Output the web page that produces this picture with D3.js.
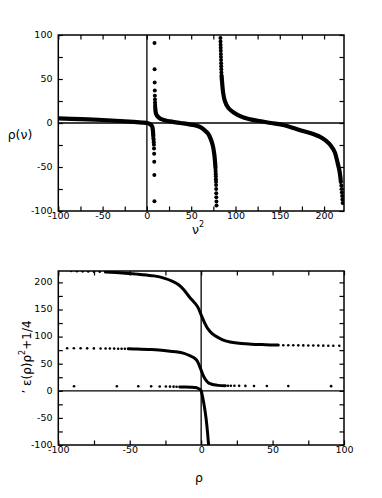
<!DOCTYPE html>
<html>
<head>
<meta charset="utf-8">
<script src="https://cdn.jsdelivr.net/npm/d3@7"></script>
<style>
  body { margin: 0; background: #fff; }
  svg { display: block; }
  text { font-family: "DejaVu Sans", sans-serif; fill: #000; }
</style>
</head>
<body>
<svg id="chart" width="382" height="498"></svg>
<script>
(() => {
  'use strict';

  // every pair is [nu^2, rho]
  const curveA = [[-100, 5.2], [-75, 4.4], [-50, 3.4], [-30, 2.3], [-15, 1.3], [-5, 0.5], [0, 0],
    [3, -1.0], [5, -2.5], [6, -4], [6.6, -7], [7.0, -11], [7.2, -15]];
  const dotsA = [[7.4, -17.2], [7.6, -19.3], [7.75, -21.8], [7.9, -24.7], [8.05, -29], [8.2, -35],
    [8.3, -44], [8.4, -59], [8.5, -89]];

  const dotsB1 = [[8.6, 91], [8.7, 61], [8.8, 46], [8.9, 37], [9.0, 31], [9.1, 26.6], [9.2, 23.3],
    [9.3, 20.8], [9.4, 18.8]];
  const curveB = [[9.5, 17], [10, 12], [11, 9], [12.5, 7], [15, 5], [20, 3.2], [28, 1.5], [38, 0],
    [48, -1.5], [56, -3], [61, -5], [65, -8], [69, -12], [72, -18], [74.5, -26], [76, -35],
    [77, -45], [77.4, -51]];
  const dotsB2 = [[77.5, -53.4], [77.6, -55.7], [77.7, -58.1], [77.8, -60.9], [77.9, -63.9],
    [78.0, -66.9], [78.1, -70.4], [78.2, -75.1], [78.3, -79.8], [78.4, -84.4], [78.5, -89.1],
    [78.6, -93.8]];

  const dotsC1 = [[83.0, 96.7], [83.1, 92.5], [83.2, 89], [83.3, 85.5], [83.4, 82], [83.5, 78.5],
    [83.6, 75], [83.7, 71.5], [83.8, 68], [83.9, 64.5], [84.0, 61], [84.1, 57.5]];
  const curveC = [[84.3, 54], [85, 45], [86, 35], [88, 25], [92, 17], [98, 12], [106, 7.5],
    [115, 4.5], [125, 2.5], [140, 0], [155, -2.5], [174, -8.5], [186, -12], [196, -16], [202, -20],
    [207.5, -25.5], [212, -33], [215, -44], [217.5, -55], [219, -67]];
  const dotsC2 = [[219.5, -71], [219.8, -75], [220.1, -79], [220.4, -83], [220.7, -87], [221, -91]];

  const curves = [curveA, curveB, curveC];
  const dots = [dotsA, dotsB1, dotsB2, dotsC1, dotsC2];

  const topXTicks = d3.range(-100, 201, 25);
  const topYTicks = d3.range(-100, 101, 25);
  const botXTicks = d3.range(-100, 101, 25);
  const botYTicks = d3.range(-100, 201, 25);

  let svg = d3.select('#chart');

  function panel(id, x, y, xt, yt, ix, iy, lineW, dotR) {
    let g = svg.append('g');
    let [x0, x1] = x.range(), [y0, y1] = y.range();
    let fmt = d => d % 50 === 0 ? d : '';

    g.append('clipPath').attr('id', id)
      .append('rect').attr('x', x0).attr('y', y1).attr('width', x1 - x0).attr('height', y0 - y1);

    let ax = (axis, tx, ty) => g.append('g')
      .attr('transform', `translate(${tx},${ty})`)
      .call(axis)
      .call(a => a.select('.domain').remove())
      .call(a => a.selectAll('line').attr('stroke', '#000').attr('stroke-width', 1.2))
      .call(a => a.selectAll('text').attr('font-size', 9.5).attr('font-family', '"DejaVu Sans", sans-serif'));

    ax(d3.axisBottom(x).tickValues(xt).tickFormat(fmt).tickSizeInner(-4.5).tickSizeOuter(0).tickPadding(1.4), 0, y0);
    ax(d3.axisTop(x).tickValues(xt).tickFormat('').tickSizeInner(-4.5).tickSizeOuter(0), 0, y1);
    ax(d3.axisLeft(y).tickValues(yt).tickFormat(fmt).tickSizeInner(-4.5).tickSizeOuter(0).tickPadding(5.8), x0, 0)
      .selectAll('text').attr('dy', '0.25em');
    ax(d3.axisRight(y).tickValues(yt).tickFormat('').tickSizeInner(-4.5).tickSizeOuter(0), x1, 0);

    // zero lines
    g.append('line').attr('x1', x(0)).attr('x2', x(0)).attr('y1', y0).attr('y2', y1)
      .attr('stroke', '#000').attr('stroke-width', 1.3);
    g.append('line').attr('x1', x0).attr('x2', x1).attr('y1', y(0)).attr('y2', y(0))
      .attr('stroke', '#000').attr('stroke-width', 1.3);

    let data = g.append('g').attr('clip-path', `url(#${id})`);
    let line = d3.line()
      .x(d => x(d[ix]))
      .y(d => y(d[iy]))
      .curve(d3.curveCatmullRom.alpha(0.5));

    data.selectAll('path.c').data(curves).join('path')
      .attr('class', 'c')
      .attr('d', line)
      .attr('fill', 'none')
      .attr('stroke', '#000')
      .attr('stroke-width', lineW)
      .attr('stroke-linecap', 'round')
      .attr('stroke-linejoin', 'round');

    data.selectAll('circle').data(dots.flat()).join('circle')
      .attr('cx', d => x(d[ix]))
      .attr('cy', d => y(d[iy]))
      .attr('r', dotR)
      .attr('fill', '#000');

    g.append('rect')
      .attr('x', x0).attr('y', y1).attr('width', x1 - x0).attr('height', y0 - y1)
      .attr('fill', 'none').attr('stroke', '#000').attr('stroke-width', 1.5);
    return g;
  }

  // top: rho against nu^2
  let xTop = d3.scaleLinear([-100, 222.5], [58.3, 344]);
  let yTop = d3.scaleLinear([-100, 100], [211, 35]);
  panel('clipTop', xTop, yTop, topXTicks, topYTicks, 0, 1, 4.2, 2);

  // bottom: nu^2 against rho
  let xBot = d3.scaleLinear([-100, 100], [58.3, 344]);
  let yBot = d3.scaleLinear([-100, 221], [445, 271]);
  panel('clipBot', xBot, yBot, botXTicks, botYTicks, 1, 0, 3, 1.3);

  // axis titles
  svg.append('text').attr('x', 20).attr('y', 138.5).attr('text-anchor', 'middle')
    .attr('font-size', 12.5).text('ρ(ν)');

  let xl = svg.append('text').attr('x', 198).attr('y', 233.5).attr('text-anchor', 'middle')
    .attr('font-size', 12.5);
  xl.append('tspan').text('ν');
  xl.append('tspan').attr('dy', -7).attr('font-size', 8).text('2');

  svg.append('text').attr('x', 199).attr('y', 481.5).attr('text-anchor', 'middle')
    .attr('font-size', 12.5).text('ρ');

  let yl = svg.append('text').attr('transform', 'translate(31,357) rotate(-90)')
    .attr('text-anchor', 'middle').attr('font-size', 12);
  yl.append('tspan').text('\u2019 ε(ρ)ρ');
  yl.append('tspan').attr('dy', -6).attr('font-size', 8).text('2');
  yl.append('tspan').attr('dy', 6).text('+1/4');
})();
</script>
</body>
</html>
